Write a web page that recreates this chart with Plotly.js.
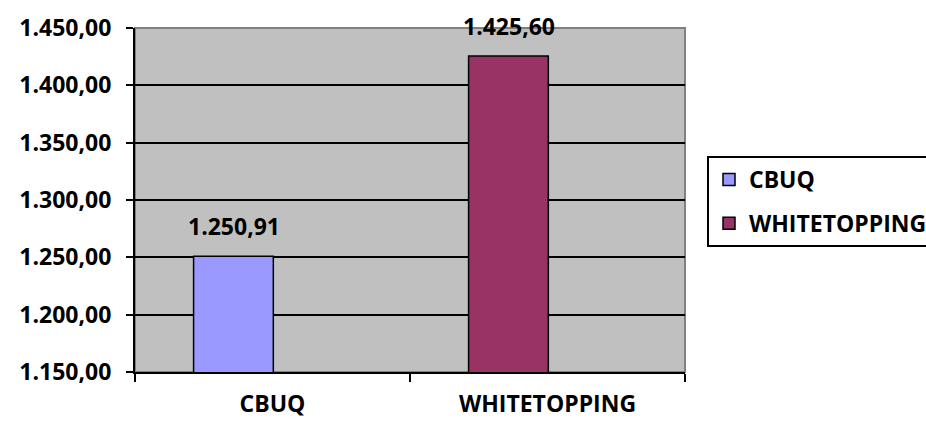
<!DOCTYPE html>
<html><head><meta charset="utf-8">
<script src="https://cdn.plot.ly/plotly-3.0.1.min.js"></script>
<style>body{margin:0;background:#fff}#c{width:926px;height:428px}</style>
</head><body><div id="c"></div>
<script>
const categories = ["CBUQ", "WHITETOPPING"];
const values = [1250.91, 1425.60];
const colors = ["#9999ff", "#993366"];
const yTicks = [1150, 1200, 1250, 1300, 1350, 1400, 1450];

const FONT = "'Open Sans', sans-serif";
const FS = 23;
const traces = categories.map((c, i) => ({
  type: "bar", name: c, x: [c], y: [values[i]], width: 0.29, offset: -0.287,
  legendgroup: "g" + i,
  marker: {color: colors[i], line: {color: "#000", width: 1.5}},
  hoverinfo: "none"
}));
const annotations = categories.map((c, i) => ({
  x: c, y: values[i], xref: "x", yref: "y", xshift: -39,
  text: "<b>" + values[i].toLocaleString("de-DE", {minimumFractionDigits: 2, maximumFractionDigits: 2}) + "</b>",
  showarrow: false, yanchor: "bottom", yshift: 12,
  font: {family: FONT, size: FS, color: "#000", weight: 700}
}));
const layout = {
  width: 926, height: 428,
  margin: {l: 135, r: 241, t: 28, b: 56, autoexpand: false},
  paper_bgcolor: "#fff", plot_bgcolor: "#c0c0c0",
  separators: ",.",
  barmode: "overlay",
  showlegend: true,
  legend: {x: 1.04, y: 0.628, xanchor: "left", yanchor: "top",
    bordercolor: "#000", borderwidth: 2, bgcolor: "#fff",
    traceorder: "grouped",
    font: {family: FONT, size: FS, color: "#000", weight: 700},
    itemwidth: 30, tracegroupgap: 11},
  xaxis: {type: "category", showgrid: false, tickson: "boundaries",
    ticks: "outside", ticklen: 8, tickwidth: 2, tickcolor: "#000",
    showline: true, linecolor: "#000", linewidth: 2,
    ticklabelstandoff: 10,
    tickfont: {family: FONT, size: FS, color: "#000", weight: 700}},
  yaxis: {range: [1150, 1450], tickvals: yTicks, tickformat: ",.2f",
    showgrid: true, gridcolor: "#000", gridwidth: 2, zeroline: false,
    ticks: "outside", ticklen: 7, tickwidth: 2, tickcolor: "#000",
    showline: true, linecolor: "#000", linewidth: 2,
    ticklabelstandoff: 10,
    tickfont: {family: FONT, size: FS, color: "#000", weight: 700}},
  shapes: [{type: "rect", xref: "paper", yref: "paper", x0: 0, x1: 1, y0: 0, y1: 1,
    line: {color: "#808080", width: 2}, layer: "below"}],
  annotations: annotations
};
Plotly.newPlot("c", traces, layout, {staticPlot: true});
</script></body></html>
